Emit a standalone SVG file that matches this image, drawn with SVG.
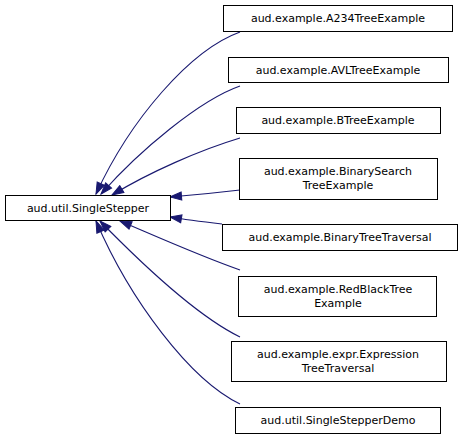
<svg xmlns="http://www.w3.org/2000/svg" width="463" height="439" viewBox="0 0 463 439">
<style>
.n rect{fill:#fff;stroke:#000;stroke-width:1}
.n text{font-family:"DejaVu Sans",sans-serif;font-size:11px;fill:#000;text-anchor:middle}
.e path{fill:none;stroke:#191970;stroke-width:1.1}
</style>
<defs>
<marker id="ah" markerUnits="userSpaceOnUse" markerWidth="14" markerHeight="10" refX="12.5" refY="5" orient="auto" viewBox="0 0 14 10">
<path d="M1,1 L12.5,5 L1,9 z" fill="#191970" stroke="#191970" stroke-width="1"/>
</marker>
</defs>
<rect width="463" height="439" fill="#fff"/>
<g id="edges" class="e">
<path d="M240,32 C190,50 130,120 96,194" marker-end="url(#ah)"/>
<path d="M240,86 C200,100 140,150 101,194" marker-end="url(#ah)"/>
<path d="M240,138 C200,150 150,172 112,195" marker-end="url(#ah)"/>
<path d="M240,190 C215,193 195,195 170,197" marker-end="url(#ah)"/>
<path d="M222,224 C205,222 188,220 170,217" marker-end="url(#ah)"/>
<path d="M240,270 C200,256 160,238 120,221" marker-end="url(#ah)"/>
<path d="M240,337 C195,315 140,262 100,221" marker-end="url(#ah)"/>
<path d="M240,404 C190,380 130,300 96,221" marker-end="url(#ah)"/>
</g>
<g id="SingleStepper" class="n"><rect x="5.5" y="195.5" width="165" height="25"/><text x="88" y="212">aud.util.SingleStepper</text></g>
<g id="A234TreeExample" class="n"><rect x="223.5" y="5.5" width="229" height="26"/><text x="338" y="22">aud.example.A234TreeExample</text></g>
<g id="AVLTreeExample" class="n"><rect x="228.5" y="57.5" width="220" height="25"/><text x="338" y="73.5">aud.example.AVLTreeExample</text></g>
<g id="BTreeExample" class="n"><rect x="236.5" y="107.5" width="204" height="26"/><text x="338" y="124">aud.example.BTreeExample</text></g>
<g id="BinarySearchTreeExample" class="n"><rect x="239.5" y="158.5" width="198" height="41"/><text x="338" y="175">aud.example.BinarySearch</text><text x="338" y="189">TreeExample</text></g>
<g id="BinaryTreeTraversal" class="n"><rect x="222.5" y="224.5" width="235" height="26"/><text x="340" y="241">aud.example.BinaryTreeTraversal</text></g>
<g id="RedBlackTreeExample" class="n"><rect x="238.5" y="276.5" width="198" height="40"/><text x="338" y="293">aud.example.RedBlackTree</text><text x="338" y="307">Example</text></g>
<g id="ExpressionTreeTraversal" class="n"><rect x="231.5" y="341.5" width="215" height="40"/><text x="338" y="358">aud.example.expr.Expression</text><text x="338" y="372">TreeTraversal</text></g>
<g id="SingleStepperDemo" class="n"><rect x="235.5" y="407.5" width="205" height="26"/><text x="338" y="424">aud.util.SingleStepperDemo</text></g>
</svg>
